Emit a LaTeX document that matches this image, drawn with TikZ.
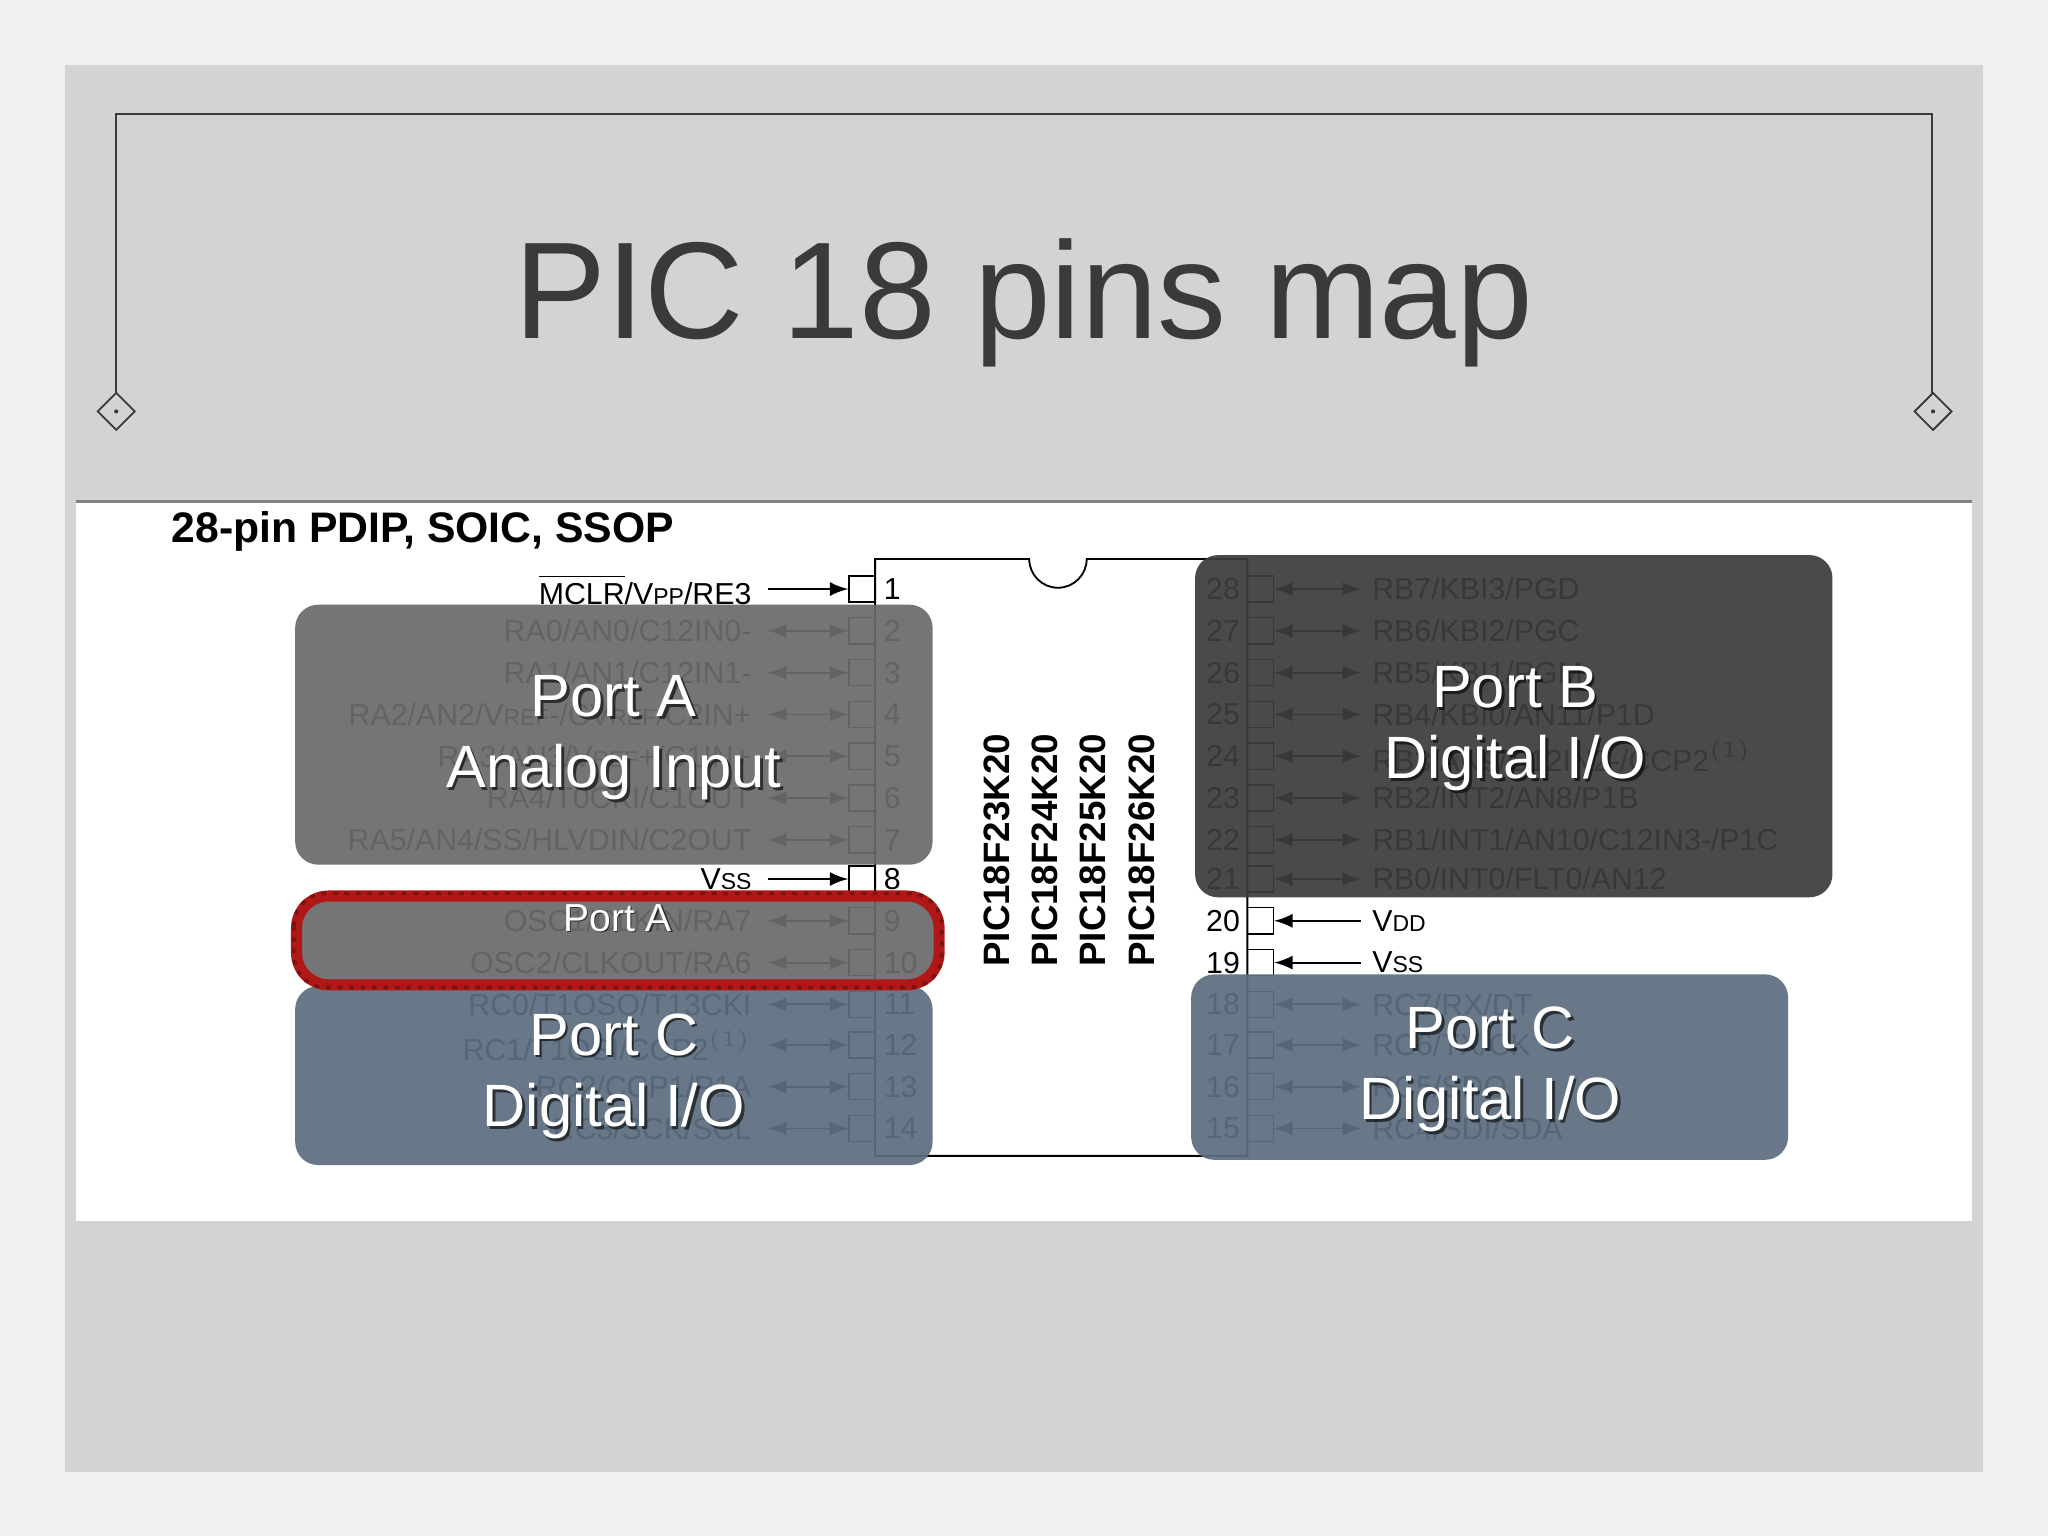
\documentclass[tikz,border=0pt]{standalone}
\usepackage{fontspec}
\setmainfont{Liberation Sans}
\definecolor{bgout}{HTML}{F0F0F1}
\definecolor{panel}{HTML}{D3D3D5}
\definecolor{titlec}{HTML}{3A3A3C}
\definecolor{pa}{HTML}{6B6A6D}
\definecolor{pb}{HTML}{3D3C3F}
\definecolor{pc}{HTML}{5D6E80}
\definecolor{redb}{HTML}{B01818}
\newcommand{\smc}[1]{{\fontsize{5}{6}\selectfont #1}}
\tikzset{
  box/.style={rounded corners=5pt, opacity=0.93},
  btxt/.style={text=white, font=\fontsize{13}{15.5}\selectfont, align=center},
  bsh/.style={text=black, opacity=0.6, font=\fontsize{13}{15.5}\selectfont, align=center},
  pin/.style={draw=black, line width=0.3pt, minimum width=0.2cm, minimum height=0.2cm, inner sep=0},
  plab/.style={font=\fontsize{6.6}{7}\selectfont, inner sep=0},
  arr/.style={-latex, line width=0.4pt},
  barr/.style={latex-latex, line width=0.4pt},
  frame/.style={draw=titlec, line width=0.4pt},
}
\begin{document}
\begin{tikzpicture}[x=0.01cm,y=-0.01cm]
\useasboundingbox (0,0) rectangle (1568,1176);
\fill[bgout] (0,0) rectangle (1568,1176);
\fill[panel] (50,50) rectangle (1518,1127);
\draw[frame] (89,308) -- (89,87) -- (1479,87) -- (1479,308);
\node[frame, fill=panel, draw, minimum size=0.2cm, rotate=45, inner sep=0] (dl) at (89,315) {};
\node[frame, fill=panel, draw, minimum size=0.2cm, rotate=45, inner sep=0] (dr) at (1480,315) {};
\fill[titlec] (dl) circle (1.6); \fill[titlec] (dr) circle (1.6);
\node[text=titlec, font=\fontsize{30}{34}\selectfont] (title) at (784,232) {PIC 18 pins map};
% white datasheet panel
\fill[white] (58,384) rectangle (1510,935);
\draw[gray, line width=0.8pt] (58,384) -- (1510,384);
\node[anchor=west, font=\bfseries\fontsize{9.3}{10}\selectfont] (hdr) at (119,407) {28-pin PDIP, SOIC, SSOP};
% chip body
\draw[line width=0.4pt] (670,428) -- (788,428) arc (180:360:22 and -22) -- (955,428) -- (955,885) -- (670,885) -- cycle;
% left pins
\foreach \n/\y/\l in {1/451/{$\overline{\mbox{MCLR}}$/V\smc{PP}/RE3},2/483/{RA0/AN0/C12IN0-},3/515/{RA1/AN1/C12IN1-},4/547/{RA2/AN2/V\smc{REF}-/CV\smc{REF}/C2IN+},5/579/{RA3/AN3/V\smc{REF}+/C1IN+},6/611/{RA4/T0CKI/C1OUT},7/643/{RA5/AN4/SS/HLVDIN/C2OUT},8/673/{V\smc{SS}},9/705/{OSC1/CLKIN/RA7},10/737/{OSC2/CLKOUT/RA6},11/769/{RC0/T1OSO/T13CKI},12/800/{RC1/T1OSI/CCP2$^{(1)}$},13/832/{RC2/CCP1/P1A},14/864/{RC3/SCK/SCL}}{
  \node[pin] (L\n) at (660,\y) {};
  \node[plab, anchor=west] at (676,\y) {\n};
  \coordinate (La\n) at (588,\y);
  \node[plab, anchor=east] at (576,\y) {\l};
}
\foreach \n in {1,8} \draw[arr] (La\n) -- (L\n.west);
\foreach \n in {2,...,7,9,10,11,12,13,14} \draw[barr] (La\n) -- (L\n.west);
% right pins
\foreach \n/\y/\l in {28/451/{RB7/KBI3/PGD},27/483/{RB6/KBI2/PGC},26/515/{RB5/KBI1/PGM},25/547/{RB4/KBI0/AN11/P1D},24/579/{RB3/AN9/C12IN2-/CCP2$^{(1)}$},23/611/{RB2/INT2/AN8/P1B},22/643/{RB1/INT1/AN10/C12IN3-/P1C},21/673/{RB0/INT0/FLT0/AN12},20/705/{V\smc{DD}},19/737/{V\smc{SS}},18/769/{RC7/RX/DT},17/800/{RC6/TX/CK},16/832/{RC5/SDO},15/864/{RC4/SDI/SDA}}{
  \node[pin] (R\n) at (965,\y) {};
  \node[plab, anchor=east] at (950,\y) {\n};
  \coordinate (Ra\n) at (1042,\y);
  \node[plab, anchor=west] at (1050,\y) {\l};
}
\foreach \n in {20,19} \draw[arr] (Ra\n) -- (R\n.east);
\foreach \n in {28,...,21,18,17,16,15} \draw[barr] (Ra\n) -- (R\n.east);
% part numbers
\foreach \x/\p in {763/PIC18F23K20,800/PIC18F24K20,837/PIC18F25K20,874/PIC18F26K20}
  \node[rotate=90, font=\bfseries\fontsize{8}{9}\selectfont] at (\x,651) {\p};
% overlay boxes
\fill[pa, box] (226,463) rectangle (714,662);
\fill[pb, box] (915,425) rectangle (1403,687);
\fill[pc, box] (226,755) rectangle (714,892);
\fill[pc, box] (912,746) rectangle (1369,888);
\fill[pa, box] (226,685) rectangle (720,755);
\draw[redb, line width=2.4pt, rounded corners=7pt] (227,686) rectangle (719,754);
\draw[redb!70!black, line width=0.8pt, dash pattern=on 1pt off 1.5pt, rounded corners=7pt] (225,684) rectangle (721,756);
% box labels
\foreach \x/\y/\t [count=\i] in {470/565/{Port A\\Analog Input},1160/558/{Port B\\Digital I/O},470/824/{Port C\\Digital I/O},1141/819/{Port C\\Digital I/O}}{
  \node[bsh] at (\x+2,\y+2) {\t};
  \node[btxt] (T\i) at (\x,\y) {\t};
}
\node[text=black, opacity=0.6, font=\fontsize{8.5}{10}\selectfont] at (474,704) {Port A};
\node[text=white, font=\fontsize{8.5}{10}\selectfont] (T5) at (473,703) {Port A};
\end{tikzpicture}
\end{document}
